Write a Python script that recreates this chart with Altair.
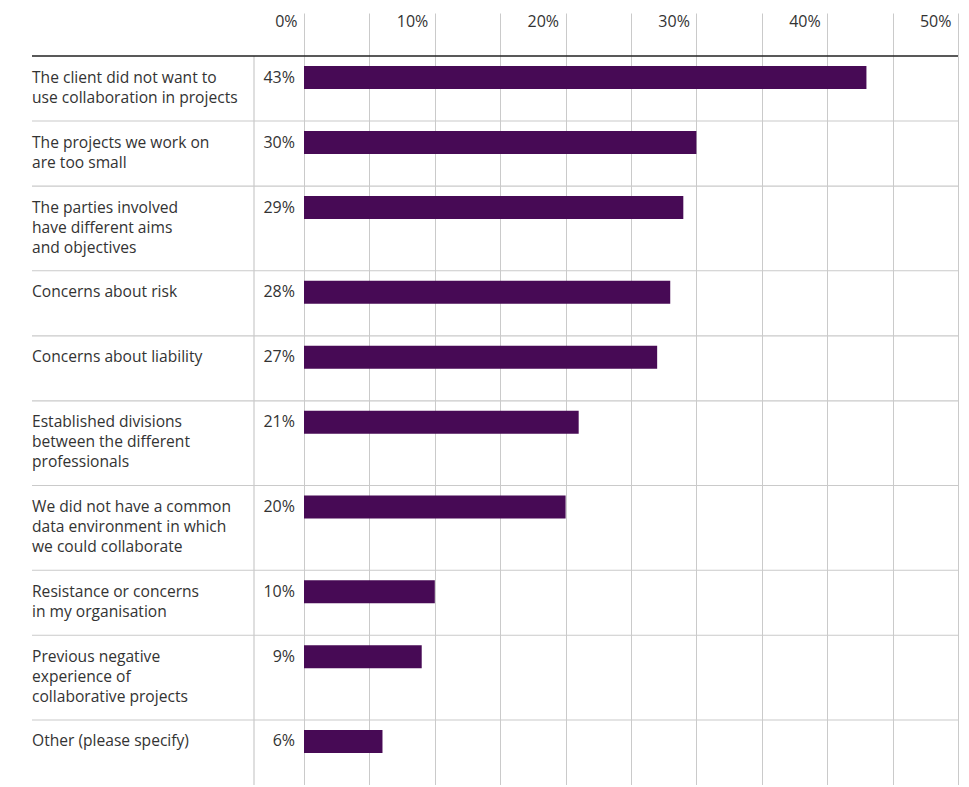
import altair as alt
import pandas as pd

categories = [
    "The client did not want to\nuse collaboration in projects",
    "The projects we work on\nare too small",
    "The parties involved\nhave different aims\nand objectives",
    "Concerns about risk",
    "Concerns about liability",
    "Established divisions\nbetween the different\nprofessionals",
    "We did not have a common\ndata environment in which\nwe could collaborate",
    "Resistance or concerns\nin my organisation",
    "Previous negative\nexperience of\ncollaborative projects",
    "Other (please specify)",
]
values = [43, 30, 29, 28, 27, 21, 20, 10, 9, 6]
tick_values = [0, 5, 10, 15, 20, 25, 30, 35, 40, 45, 50]

PURPLE = "#470a55"
GRID = "#cacaca"
TEXT = "#333333"
FONT = "Open Sans"

# row extents derived from the number of label lines
lines = [c.count("\n") + 1 for c in categories]
weights = [max(n, 2) + 1.3 for n in lines]
starts = []
acc = 0.0
for w in weights:
    starts.append(acc)
    acc += w
total = acc

df = pd.DataFrame({
    "category": categories,
    "value": values,
    "label": [f"{v}%" for v in values],
    "start": starts,
    "zero": [0] * len(values),
})

W, H = 654, 729
yscale = alt.Scale(domain=[0, total], reverse=True, nice=False, zero=False)
xscale = alt.Scale(domain=[0, 50], nice=False)

base = alt.Chart(df)

bars = base.mark_rule(color=PURPLE, strokeWidth=23, yOffset=21.5, strokeCap="butt").encode(
    x=alt.X("zero:Q", scale=xscale, title=None,
            axis=alt.Axis(orient="top", values=tick_values, grid=True, gridColor=GRID,
                          gridWidth=1, ticks=True, tickSize=43, tickColor=GRID, tickWidth=1,
                          domain=False,
                          labelExpr="datum.value % 10 == 0 ? datum.value + '%' : ''",
                          labelAlign="right", labelOffset=-7, labelPadding=-13,
                          labelBaseline="alphabetic", labelFont=FONT, labelFontSize=16,
                          labelColor=TEXT, labelFlush=False, labelOverlap=False)),
    x2="value:Q",
    y=alt.Y("start:Q", scale=yscale, axis=None),
)

separators = base.transform_filter("datum.start > 0").mark_rule(
    color=GRID, strokeWidth=1.2
).encode(
    y=alt.Y("start:Q", scale=yscale, axis=None),
    x=alt.value(-272),
    x2=alt.value(W),
)

topline = base.transform_filter("datum.start == 0").mark_rule(
    color="#222222", strokeWidth=1.5
).encode(
    y=alt.Y("start:Q", scale=yscale, axis=None),
    x=alt.value(-272),
    x2=alt.value(W),
)

divider = base.transform_filter("datum.start == 0").mark_rule(
    color=GRID, strokeWidth=1.2
).encode(
    x=alt.value(-50),
    y=alt.value(0),
    y2=alt.value(H),
)

cat_text = base.mark_text(
    align="left", baseline="alphabetic", lineBreak="\n", lineHeight=20,
    font=FONT, fontSize=15.6, color=TEXT, dy=26.5
).encode(
    x=alt.value(-272),
    y=alt.Y("start:Q", scale=yscale, axis=None),
    text="category:N",
)

val_text = base.mark_text(
    align="right", baseline="alphabetic",
    font=FONT, fontSize=16, color=TEXT, dy=26.5
).encode(
    x=alt.value(-9),
    y=alt.Y("start:Q", scale=yscale, axis=None),
    text="label:N",
)

chart = alt.layer(divider, separators, bars, topline, cat_text, val_text).properties(
    width=W, height=H,
    autosize=alt.AutoSizeParams(type="none"),
    padding={"left": 304, "top": 56, "right": 5, "bottom": 0},
    background="white",
).configure_view(stroke=None)

chart.save("out.html", embed_options={"renderer": "svg", "actions": False})
